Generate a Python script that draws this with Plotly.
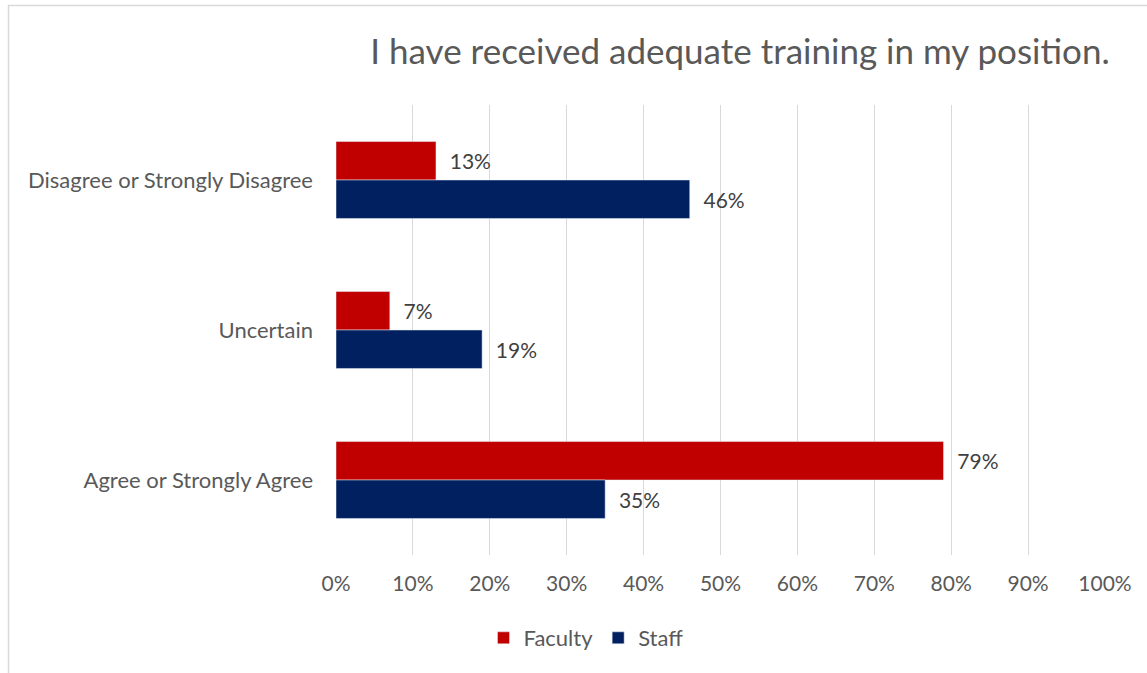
import plotly.graph_objects as go

categories = ["Disagree or Strongly Disagree", "Uncertain", "Agree or Strongly Agree"]
faculty = [0.13, 0.07, 0.79]
staff = [0.46, 0.19, 0.35]
tick_vals = [0, 0.1, 0.2, 0.3, 0.4, 0.5, 0.6, 0.7, 0.8, 0.9, 1.0]
tick_text = ["0%", "10%", "20%", "30%", "40%", "50%", "60%", "70%", "80%", "90%", "100%"]

FONT = "Lato"
W, H = 1147, 673
L, R, T, B = 336, 42, 105, 118
pw = W - L - R
ph = H - T - B

fig = go.Figure()
pad = "\u00a0\u00a0"
for name, vals, color in [("Faculty", faculty, "#C00000"), ("Staff", staff, "#002060")]:
    fig.add_trace(go.Bar(
        name=name, y=categories, x=vals, orientation="h",
        marker=dict(color=color),
        text=[f"{v:.0%}" for v in vals], texttemplate=pad + "%{text}",
        textposition="outside", cliponaxis=False,
        textfont=dict(family=FONT, size=21, color="#404040"),
    ))

fig.update_layout(
    width=W, height=H,
    margin=dict(l=L, r=R, t=T, b=B, autoexpand=False),
    paper_bgcolor="white", plot_bgcolor="white",
    barmode="group", bargap=0.487, bargroupgap=0,
    font=dict(family=FONT, color="#595959"),
    title=dict(
        text="I have received adequate training in my position.",
        x=740 / W, xanchor="center", xref="container",
        y=1 - 52 / H, yanchor="middle", yref="container",
        font=dict(family=FONT, size=35, color="#595959"),
    ),
    xaxis=dict(
        range=[0, 1], tickvals=tick_vals, ticktext=tick_text,
        showgrid=True, gridcolor="#d9d9d9", gridwidth=1,
        zeroline=False, showline=False,
        tickfont=dict(family=FONT, size=21, color="#595959"),
        ticks="", ticklabelstandoff=14,
    ),
    yaxis=dict(
        categoryorder="array", categoryarray=categories,
        autorange="reversed", showgrid=False, zeroline=False, showline=False,
        tickfont=dict(family=FONT, size=22, color="#595959"),
        ticks="", ticklabelstandoff=22,
    ),
    legend=dict(
        orientation="h", x=(586 - L) / pw, xanchor="center",
        y=-(638 - (T + ph)) / ph, yanchor="middle",
        font=dict(family=FONT, size=22, color="#595959"),
        traceorder="normal", itemwidth=30,
    ),
    showlegend=True,
    shapes=[dict(type="rect", xref="paper", yref="paper",
                 x0=(8.5 - L) / pw, x1=(W + 10 - L) / pw,
                 y0=-(H + 10 - T - ph) / ph, y1=(T + ph - 5.5) / ph,
                 line=dict(color="#d9d9d9", width=1.5), layer="below")],
)

fig.write_html("out.html", config={"displayModeBar": False},
               post_script="document.body.style.margin='0';document.body.style.overflow='hidden';")
